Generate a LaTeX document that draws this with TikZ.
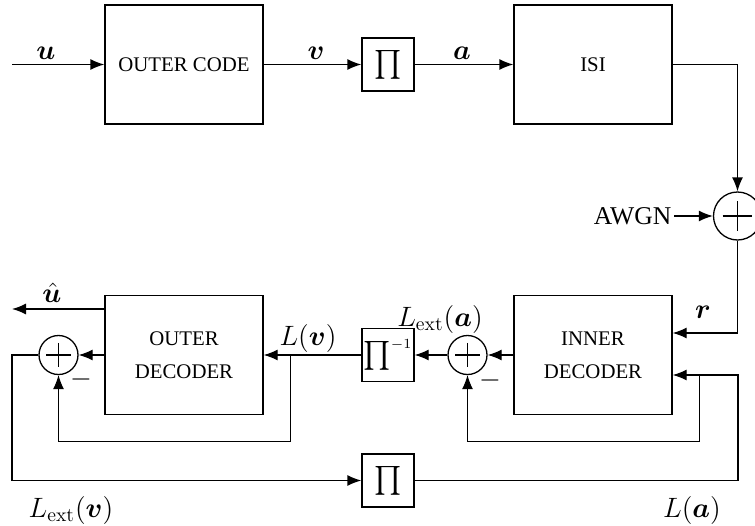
\RequirePackage{fix-cm}
\documentclass[tikz,border=0pt]{standalone}
\usepackage{amsmath,bm}
\usepackage{fontspec}
\newfontfamily\tnr{Liberation Serif}
\usetikzlibrary{arrows.meta,calc}

\begin{document}
\begin{tikzpicture}[x=0.5pt,y=-0.5pt,
  >={Latex[length=7pt,width=5.5pt]},
  line width=0.65pt,
  blockbox/.style={draw, minimum width=79pt, minimum height=59.5pt, inner sep=0pt,
    font=\tnr\fontsize{10.4}{16.5}\selectfont, align=center},
  pibox/.style={draw, minimum width=26pt, minimum height=26.5pt, inner sep=0pt,
    font=\fontsize{14}{16}\selectfont},
  sumnode/.style={circle, draw, inner sep=0pt, path picture={
    \draw ($(path picture bounding box.west)!0.19!(path picture bounding box.east)$) --
          ($(path picture bounding box.west)!0.81!(path picture bounding box.east)$);
    \draw ($(path picture bounding box.north)!0.19!(path picture bounding box.south)$) --
          ($(path picture bounding box.north)!0.81!(path picture bounding box.south)$);}},
  mlabel/.style={font=\fontsize{14}{16}\selectfont, inner sep=0pt},
  thinline/.style={line width=0.5pt}]

\useasboundingbox (0,0) rectangle (755,525);

% transmitter chain
\node[blockbox] (outer) at (184,64.5) {OUTER CODE};
\node[pibox] (pi1) at (388,64.5) {$\prod$};
\node[blockbox] (isi) at (593,64.5) {ISI};
\node[sumnode, minimum size=24pt] (sum1) at (737.5,216) {};
\node[font=\tnr\fontsize{12.8}{15}\selectfont, inner sep=1pt, anchor=east] (awgn) at (674,216) {AWGN};

% receiver chain
\node[blockbox] (inner) at (593,355) {INNER\\DECODER};
\node[sumnode, minimum size=19.5pt] (sumin) at (467.5,355) {};
\node[pibox] (pinv) at (388,355) {$\prod^{\scriptscriptstyle -1}$};
\node[blockbox] (outdec) at (184,355) {OUTER\\DECODER};
\node[sumnode, minimum size=19.5pt] (sumout) at (58.5,355) {};
\node[pibox] (pi3) at (388,480.5) {$\prod$};

% free ends and corners
\coordinate (uin) at (12,64.5);
\coordinate (uhat) at (12,309);
\coordinate (ylow) at (0,441);
\coordinate (tapin) at (699,375);
\coordinate (tapout) at (290,355);
\coordinate (rcorner) at (738,375);
\coordinate (lcorner) at (12,480.5);

% connectors
\draw[->] (uin) -- (outer.west);
\draw[->] (outer.east) -- (pi1.west);
\draw[->] (pi1.east) -- (isi.west);
\draw[->] (isi.east) -| (sum1.north);
\draw[->] (awgn.east) -- (sum1.west);
\draw[->] (sum1.south) |- ([yshift=11pt]inner.east);
\draw[->] (pi3.east) -| (rcorner) -- (inner.east |- rcorner);
\draw[thinline,->] (tapin) -- (tapin |- ylow) -| (sumin.south);
\draw[->] (inner.west) -- (sumin.east);
\draw[->] (sumin.west) -- (pinv.east);
\draw[->] (pinv.west) -- (outdec.east);
\draw[thinline,->] (tapout) -- (tapout |- ylow) -| (sumout.south);
\draw[->] (outdec.west) -- (sumout.east);
\draw[->] (outdec.west |- uhat) -- (uhat);
\draw[->] (sumout.west) -| (lcorner) -- (pi3.west);

% signal labels
\node[mlabel] (lu) at (46,53) {$\bm{u}$};
\node[mlabel] (lv) at (316,53) {$\bm{v}$};
\node[mlabel] (la) at (462,53) {$\bm{a}$};
\node[mlabel] (lr) at (703,312) {$\bm{r}$};
\node[mlabel] (luhat) at (52,293) {$\hat{\bm{u}}$};
\node[mlabel] (lLv) at (308,338) {$L(\bm{v})$};
\node[mlabel] (lLexta) at (440,319) {$L_{\mathrm{ext}}(\bm{a})$};
\node[mlabel] (lLextv) at (71,510) {$L_{\mathrm{ext}}(\bm{v})$};
\node[mlabel] (lLa) at (692,510) {$L(\bm{a})$};
\node[mlabel] (mout) at (81,379) {$-$};
\node[mlabel] (min) at (490,380) {$-$};
\end{tikzpicture}
\end{document}
